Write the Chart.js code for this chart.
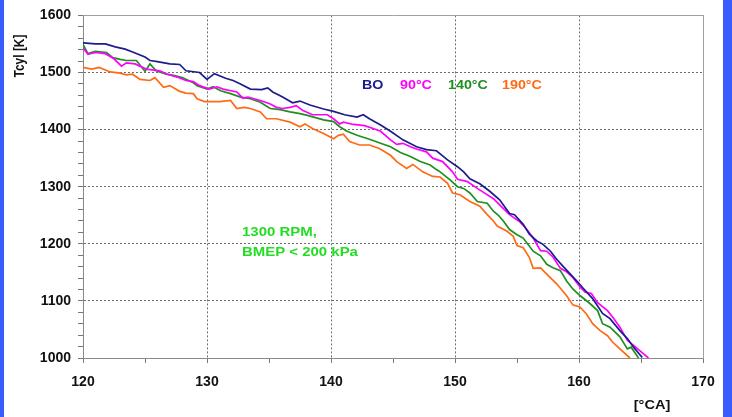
<!DOCTYPE html>
<html lang="en">
<head>
    <meta charset="UTF-8">
    <title>Tcyl vs crank angle</title>
    <script src="https://cdn.jsdelivr.net/npm/chart.js"></script>
    <style>
        body { margin: 0; background: #fff; }
        .wrap { position: relative; width: 732px; height: 417px; }
        .edge { position: absolute; top: 0; height: 417px; background: #3a5cff; }
        .edge.left { left: 0; width: 4px; }
        .edge.right { left: 723px; width: 9px; }
    </style>
</head>
<body>
<div class="wrap">
    <canvas id="chart" width="732" height="417"></canvas>
    <div class="edge left"></div>
    <div class="edge right"></div>
</div>
<script>
    // Crank angle [°CA] and cylinder temperature [K] per series
    const boCA = [120,121,121.8,122.6,123.4,124,125,125.4,126,127,127.8,128.3,129.4,130,130.6,131.5,132.1,132.7,133.5,134.4,134.9,135.3,136.1,136.9,137.5,138.3,139.4,140.2,141.1,142.1,142.6,143.1,144,144.8,145.8,146.9,147.7,148.5,149.4,150.2,150.7,151.2,152,152.8,153.6,154.4,154.8,155.5,156,156.6,157.1,157.7,158.2,158.7,159.3,159.9,160.3,161.1,161.9,162.5,163.3,163.9,164.4,165.1];
    const boT = [1552,1550,1550,1545,1541,1536,1527,1521,1519,1515,1514,1503,1500,1488,1498,1490,1486,1480,1471,1470,1473,1466,1457,1447,1450,1443,1436,1432,1426,1422,1426,1419,1408,1397,1382,1370,1365,1363,1347,1335,1326,1314,1305,1292,1277,1253,1251,1234,1217,1205,1199,1187,1173,1161,1147,1133,1123,1104,1078,1069,1048,1034,1019,1001];

    const t90CA = [120,120.4,121,121.8,122.5,123.1,123.5,124.2,125.1,126.2,126.8,127.6,128.3,128.9,129.4,130.2,130.8,131.3,132.4,132.9,133.3,134.3,135.1,135.6,136.1,136.7,137.2,137.7,138.5,139.7,140.2,140.7,141,141.8,142.7,143.4,144,144.8,145.3,145.8,146.4,146.9,147.7,148.2,149,149.8,150.2,151,151.8,152.3,153.1,153.6,154.4,155.2,155.8,156.3,156.9,157.4,157.9,158.5,159,159.5,160.1,160.5,161,161.5,162.3,162.8,163.3,163.9,164.4,164.9,165.6];
    const t90T = [1543,1532,1535,1533,1524,1511,1517,1515,1506,1503,1497,1492,1486,1484,1477,1471,1475,1471,1466,1455,1457,1451,1445,1439,1437,1439,1442,1434,1426,1426,1419,1410,1413,1409,1407,1402,1397,1382,1374,1376,1370,1366,1361,1350,1344,1326,1313,1309,1297,1290,1279,1268,1251,1239,1225,1210,1188,1187,1177,1157,1151,1141,1124,1115,1113,1097,1083,1069,1054,1031,1022,1013,1000];

    const t140CA = [120,120.4,121,121.9,122.4,123,123.5,124.3,125,125.4,125.9,126.7,127.3,128,128.9,129.2,130,130.5,131.1,131.9,132.7,133.5,134.3,135.1,135.9,136.7,137.5,138.1,139.4,140.2,140.7,141.3,142.1,143.1,144,144.8,145.6,146.4,147.2,148,148.5,148.8,149.6,150.2,150.7,151.2,151.8,152.6,153.1,153.5,153.9,154.4,155,155.5,156.3,156.9,157.4,157.9,158.5,159,159.5,160.1,160.9,161.5,161.9,162.5,163.3,163.9,164.2,164.8];
    const t140T = [1549,1533,1537,1535,1526,1523,1521,1521,1502,1515,1503,1497,1495,1491,1482,1477,1471,1475,1468,1463,1457,1454,1448,1437,1435,1431,1428,1425,1417,1414,1405,1397,1390,1383,1376,1370,1360,1353,1344,1338,1330,1326,1312,1300,1297,1289,1274,1271,1257,1250,1240,1225,1216,1210,1187,1179,1164,1158,1153,1135,1121,1109,1095,1083,1060,1054,1037,1016,1019,1000];

    const t190CA = [120,120.7,121.3,122.2,123,123.5,124,124.6,125.4,125.8,126.5,127,127.8,128.3,128.9,129.2,129.8,131,131.9,132.4,133,133.5,134.3,134.8,135.6,136.7,137.5,137.9,138.5,139.4,140.2,140.6,141,141.5,142.3,143.1,143.9,144.8,145.3,146.1,146.6,147.4,148.2,148.8,149.4,149.8,150.4,151.2,152,152.6,153.1,153.4,154.2,154.7,155,155.5,156,156.3,156.9,157.4,158.2,159,159.5,160.1,160.6,161.1,161.7,162.3,162.7,163.3,164.1];
    const t190T = [1509,1506,1509,1501,1499,1496,1497,1488,1486,1491,1474,1477,1467,1464,1463,1454,1449,1449,1451,1437,1439,1437,1431,1419,1419,1413,1405,1410,1402,1393,1384,1390,1392,1379,1373,1373,1367,1355,1344,1332,1339,1326,1318,1317,1306,1289,1286,1274,1266,1251,1240,1231,1222,1213,1197,1193,1176,1157,1158,1147,1130,1109,1093,1089,1077,1060,1048,1039,1028,1016,1000];

    const seriesNames = ['BO', '90°C', '140°C', '190°C'];
    const seriesColors = ['#1c1c8c', '#ff00ff', '#1f8f1f', '#ff6a14'];
    const noteLines = ['1300 RPM,', 'BMEP < 200 kPa'];

    function pts(xs, ys) {
        return xs.map((x, i) => ({ x: x, y: ys[i] }));
    }

    const FONT = '"Liberation Sans", Arial, sans-serif';
    const gridCol = (edgeA, edgeB, major) => ctx => {
        const v = ctx.tick ? ctx.tick.value : null;
        if (v === null || v % major !== 0 || v === edgeA || v === edgeB) return 'rgba(0,0,0,0)';
        return '#6e6e6e';
    };

    // stretched text, the picture is a bit wider than tall
    function wideText(c, txt, x, y, sx) {
        c.save();
        c.translate(x, y);
        c.scale(sx, 1);
        c.fillText(txt, 0, 0);
        c.restore();
    }

    // texts placed inside the plot (axis titles, legend, note)
    const labelsPlugin = {
        id: 'labels',
        afterDraw(chart) {
            const c = chart.ctx;
            c.save();
            c.font = 'bold 13px ' + FONT;
            c.fillStyle = '#111';
            c.textBaseline = 'middle';
            c.textAlign = 'center';
            c.save();
            c.translate(20, 56);
            c.rotate(-Math.PI / 2);
            c.scale(0.92, 1.15);
            c.fillText('Tcyl [K]', 0, 0);
            c.restore();
            wideText(c, '[°CA]', 652, 405, 1.12);

            const legendX = [362, 400, 448, 502];
            c.textAlign = 'left';
            seriesNames.forEach((n, i) => {
                c.fillStyle = seriesColors[i];
                wideText(c, n, legendX[i], 85, 1.1);
            });

            c.fillStyle = '#22dd22';
            wideText(c, noteLines[0], 242, 232, 1.15);
            wideText(c, noteLines[1], 242, 252, 1.15);
            c.restore();
        }
    };

    new Chart(document.getElementById('chart'), {
        type: 'line',
        data: {
            datasets: [
                { label: seriesNames[0], data: pts(boCA, boT), borderColor: seriesColors[0] },
                { label: seriesNames[1], data: pts(t90CA, t90T), borderColor: seriesColors[1] },
                { label: seriesNames[2], data: pts(t140CA, t140T), borderColor: seriesColors[2] },
                { label: seriesNames[3], data: pts(t190CA, t190T), borderColor: seriesColors[3] }
            ]
        },
        options: {
            responsive: false,
            animation: false,
            devicePixelRatio: 1,
            layout: { padding: { left: 0, top: 13, right: 29, bottom: 0 } },
            elements: {
                point: { radius: 0 },
                line: { borderWidth: 1.7, tension: 0 }
            },
            plugins: { legend: { display: false }, tooltip: { enabled: false } },
            scales: {
                x: {
                    type: 'linear', min: 120, max: 170,
                    afterFit: s => { s.height = 59; },
                    ticks: {
                        stepSize: 5, autoSkip: false, maxRotation: 0, padding: 11,
                        color: '#111', font: { family: FONT, size: 14, weight: 'bold' },
                        callback: v => v % 10 === 0 ? v : ''
                    },
                    grid: { color: gridCol(120, 170, 10), tickColor: '#777', tickLength: 5, lineWidth: 1 },
                    border: { color: '#8a8a8a', dash: [2, 2] }
                },
                y: {
                    min: 1000, max: 1600,
                    afterFit: s => { s.width = 83; },
                    ticks: {
                        stepSize: 20, autoSkip: false, padding: 7,
                        color: '#111', font: { family: FONT, size: 14, weight: 'bold' },
                        callback: v => v % 100 === 0 ? v : ''
                    },
                    grid: { color: gridCol(1000, 1600, 100), tickColor: '#777', tickLength: 5, lineWidth: 1 },
                    border: { color: '#8a8a8a', dash: [2, 2] }
                },
                xTop: {
                    position: 'top', type: 'linear',
                    afterFit: s => { s.height = 0; },
                    ticks: { display: false },
                    grid: { drawOnChartArea: false, drawTicks: false },
                    border: { color: '#a0a0a0' }
                },
                yRight: {
                    position: 'right',
                    afterFit: s => { s.width = 0; },
                    ticks: { display: false },
                    grid: { drawOnChartArea: false, drawTicks: false },
                    border: { color: '#a0a0a0' }
                }
            }
        },
        plugins: [labelsPlugin]
    });
</script>
</body>
</html>
